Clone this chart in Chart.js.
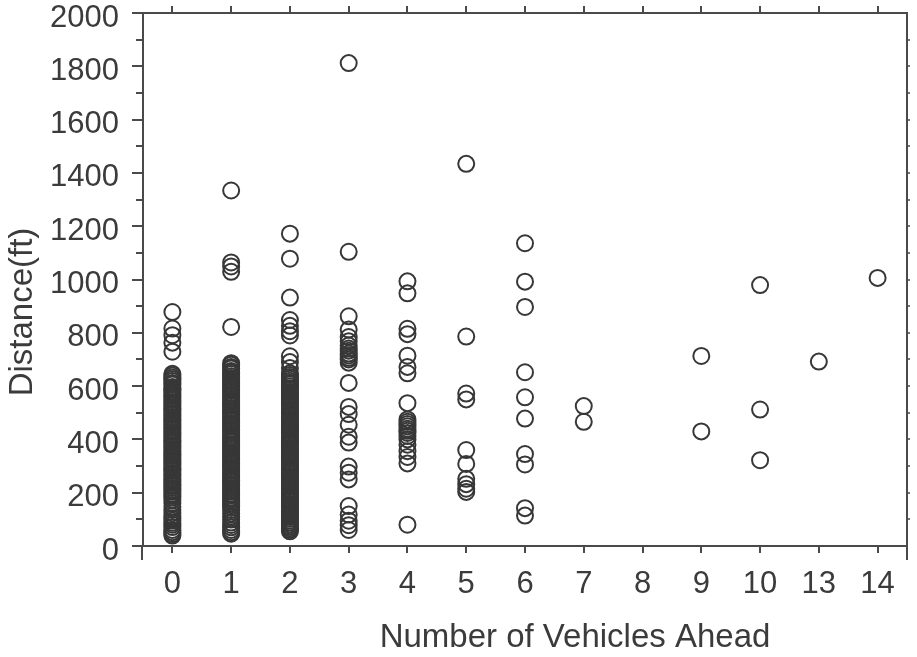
<!DOCTYPE html>
<html>
<head>
<meta charset="utf-8">
<script src="https://cdn.jsdelivr.net/npm/chart.js@4.4.1/dist/chart.umd.min.js"></script>
<style>
  html, body { margin: 0; padding: 0; background: #fff; }
  #wrap { width: 917px; height: 657px; }
</style>
</head>
<body>
<div id="wrap"><canvas id="c" width="917" height="657"></canvas></div>
<script>
// Category axis: number of vehicles ahead (11 and 12 never occur)
const categories = ['0', '1', '2', '3', '4', '5', '6', '7', '8', '9', '10', '13', '14'];

// Observed distances (ft) for each vehicle count
const dist0 = [878, 816, 791, 763, 729,
               646, 640, 632, 626, 619, 612, 606, 597, 590, 585, 577, 569, 563, 555, 548, 540, 534, 527,
               519, 513, 506, 498, 492, 484, 477, 471, 463, 456, 449, 443, 435, 428, 420, 414, 407, 399,
               393, 386, 378, 372, 365, 357, 351, 343, 337, 329, 323, 315, 309, 302, 294, 288, 281, 273,
               267, 260, 252, 246, 239, 231, 225, 218, 210, 204, 196, 189, 182, 173, 160, 147, 136, 123,
               113, 104, 96, 87, 80, 71, 60, 52, 45, 39];
const dist1 = [1334, 1064, 1049, 1029, 822,
               686, 680, 672, 666, 657, 651, 645, 637, 630, 623, 617, 609, 603, 595, 588, 582, 574, 567,
               561, 553, 546, 538, 532, 525, 517, 508, 502, 495, 489, 481, 474, 468, 460, 453, 447, 439,
               432, 425, 417, 410, 403, 396, 389, 381, 374, 368, 360, 352, 346, 339, 331, 325, 317, 310,
               304, 296, 289, 282, 275, 267, 261, 253, 246, 240, 232, 225, 218, 211, 204, 196, 190, 182,
               175, 168, 160, 153, 146, 135, 122, 110, 99, 88, 79, 70, 60, 52, 46];
const dist2 = [1172, 1078, 932, 848, 826, 806, 790, 712, 690, 668,
               648, 642, 634, 628, 620, 613, 607, 599, 592, 586, 578, 571, 565, 557, 550, 544, 536, 529,
               523, 515, 508, 502, 494, 487, 481, 473, 466, 460, 452, 445, 439, 431, 424, 418, 410, 403,
               397, 389, 382, 376, 368, 361, 355, 347, 340, 334, 326, 319, 313, 305, 298, 292, 284, 277,
               271, 263, 256, 250, 242, 235, 229, 221, 214, 208, 200, 193, 187, 179, 172, 166, 158, 151,
               144, 137, 130, 123, 116, 109, 102, 95, 88, 81, 74, 67, 61, 55];
const dist3 = [1812, 1104, 862, 812, 784, 768, 752, 741, 733, 722, 715, 706, 700, 688, 612,
               522, 495, 455, 410, 388, 298, 275, 250, 150, 118, 95, 78, 60];
const dist4 = [993, 948, 815, 795, 714, 672, 648, 536,
               475, 466, 458, 449, 440, 432, 424, 413, 400, 380, 356, 334, 310, 80];
const dist5 = [1434, 786, 572, 550, 360, 308, 252, 232, 215, 203];
const dist6 = [1136, 992, 897, 652, 558, 478, 345, 306, 142, 114];
const dist7 = [525, 466];
const dist8 = [];
const dist9 = [713, 430];
const dist10 = [979, 512, 322];
const dist13 = [692];
const dist14 = [1006];

// Y axis range and tick labels
const yMin = 0;
const yMax = 2000;
const yTickLabels = ['0', '200', '400', '600', '800', '1000', '1200', '1400', '1600', '1800', '2000'];

const xTitle = 'Number of Vehicles Ahead';
const yTitle = 'Distance(ft)';

const seriesByCategory = [dist0, dist1, dist2, dist3, dist4, dist5, dist6, dist7, dist8, dist9, dist10, dist13, dist14];
const points = [];
seriesByCategory.forEach((vals, i) => {
  vals.forEach(v => points.push({ x: categories[i], y: v }));
});

const INK = '#3b3b3b';
const AXIS = '#4a4a4a';
const FONT = "'Liberation Sans', Arial, Helvetica, sans-serif";

// Box frame, minor ticks and axis titles
const framePlugin = {
  id: 'frame',
  afterDraw(chart) {
    const { ctx, chartArea: a, scales } = chart;
    const x = scales.x, y = scales.y;
    ctx.save();
    ctx.strokeStyle = AXIS;
    ctx.lineWidth = 2;
    ctx.beginPath();
    ctx.moveTo(a.left - 1, a.top); ctx.lineTo(a.right + 1, a.top);
    ctx.moveTo(a.right, a.top); ctx.lineTo(a.right, a.bottom + 14);
    ctx.moveTo(a.left - 1, a.bottom); ctx.lineTo(a.left - 1, a.bottom + 14);
    categories.forEach((c, i) => {
      const px = Math.round(x.getPixelForValue(i));
      ctx.moveTo(px, a.top); ctx.lineTo(px, a.top - 7);
    });
    for (let v = yMin + 100; v < yMax; v += 200) {
      const py = Math.round(y.getPixelForValue(v));
      ctx.moveTo(a.left - 7, py); ctx.lineTo(a.left - 1, py);
    }
    ctx.stroke();
    ctx.lineWidth = 1.5;
    ctx.beginPath();
    for (let v = yMin + 100; v < yMax; v += 100) {
      const py = Math.round(y.getPixelForValue(v));
      ctx.moveTo(a.right, py); ctx.lineTo(a.right + 3, py);
    }
    ctx.stroke();

    ctx.fillStyle = INK;
    ctx.font = '33px ' + FONT;
    ctx.textAlign = 'center';
    ctx.textBaseline = 'middle';
    ctx.fillText(xTitle, 575, 638);
    ctx.translate(23, 312);
    ctx.rotate(-Math.PI / 2);
    ctx.fillText(yTitle, 0, 0);
    ctx.restore();
  }
};

new Chart(document.getElementById('c'), {
  type: 'scatter',
  data: {
    labels: categories,
    datasets: [{
      data: points,
      pointStyle: 'circle',
      pointRadius: 8,
      pointHoverRadius: 8,
      pointBorderWidth: 2,
      pointBorderColor: '#373737',
      pointBackgroundColor: 'rgba(0,0,0,0)',
      showLine: false
    }]
  },
  options: {
    responsive: false,
    animation: false,
    devicePixelRatio: 1,
    layout: { padding: { top: 13, right: 6, left: 0, bottom: 0 } },
    plugins: { legend: { display: false }, tooltip: { enabled: false } },
    scales: {
      x: {
        type: 'category',
        labels: categories,
        offset: true,
        afterFit(s) { s.height = 111; s.paddingLeft = 0; s.paddingRight = 0; },
        grid: { display: true, drawOnChartArea: false, offset: false, tickLength: 7, color: AXIS, lineWidth: 2 },
        border: { display: true, color: AXIS, width: 2 },
        ticks: { color: INK, font: { family: FONT, size: 31 }, padding: 13, autoSkip: false, maxRotation: 0 }
      },
      y: {
        type: 'linear',
        min: yMin,
        max: yMax,
        afterFit(s) { s.width = 143; s.paddingTop = 0; s.paddingBottom = 0; },
        afterBuildTicks(s) { s.ticks = yTickLabels.map(t => ({ value: Number(t) })); },
        grid: { display: true, drawOnChartArea: false, tickLength: 11, color: AXIS, lineWidth: 2 },
        border: { display: true, color: AXIS, width: 2 },
        ticks: {
          color: INK, font: { family: FONT, size: 31 }, padding: 13, labelOffset: 5,
          callback: (v) => yTickLabels.find(t => Number(t) === v)
        }
      }
    }
  },
  plugins: [framePlugin]
});
</script>
</body>
</html>
